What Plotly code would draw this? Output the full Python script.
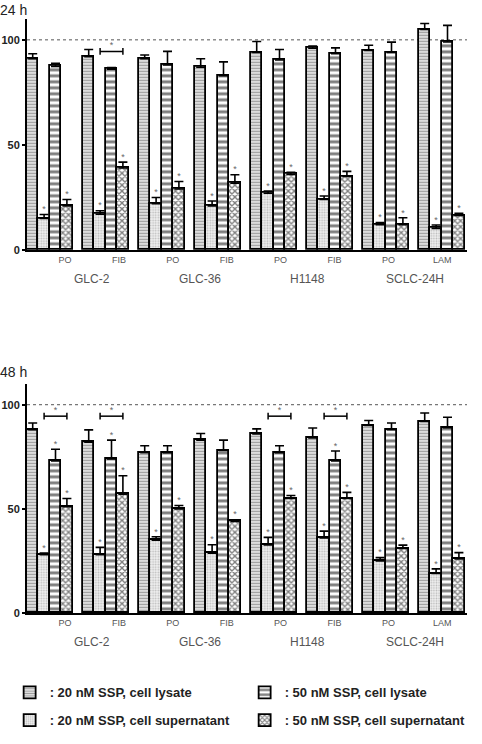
import plotly.graph_objects as go

# ---------------- data ----------------
conditions = ["PO", "FIB", "PO", "FIB", "PO", "FIB", "PO", "LAM"]
cell_lines = ["GLC-2", "GLC-36", "H1148", "SCLC-24H"]
series_names = [": 20 nM SSP, cell lysate", ": 20 nM SSP, cell supernatant",
                ": 50 nM SSP, cell lysate", ": 50 nM SSP, cell supernatant"]

# 24 h panel: values and upper error
h24_lys20 = [91, 92, 91, 87, 94, 96, 95, 105]
h24_lys20_err = [2.4, 3.4, 1.8, 4, 5.2, 1, 2.4, 2.8]
h24_sup20 = [15, 17, 22, 21, 27, 24, 12, 10.3]
h24_sup20_err = [1.9, 1.7, 3, 2.3, 1, 1.7, 1, 1.6]
h24_lys50 = [87.4, 86, 88, 83, 90.4, 93.4, 94, 99]
h24_lys50_err = [1.5, 0.8, 6.5, 6.5, 5, 2.8, 4.9, 7.9]
h24_sup50 = [21, 39, 29, 31.8, 36, 35, 12, 16.4]
h24_sup50_err = [3, 2.8, 3.6, 4, 1, 2.4, 3.3, 1]

# 48 h panel
h48_lys20 = [88, 82, 77, 83, 86, 84, 90, 92]
h48_lys20_err = [3.2, 5.9, 3.3, 3.2, 2.4, 4.8, 2.4, 4]
h48_sup20 = [28, 28, 35, 28.7, 32.7, 36, 25, 19]
h48_sup20_err = [0.8, 3.5, 1.6, 4.1, 3.6, 3.3, 1.6, 2.2]
h48_lys50 = [73, 74, 77, 78, 77, 73, 88, 89]
h48_lys50_err = [5.6, 9, 3.3, 5, 3.3, 4.8, 3.2, 5]
h48_sup50 = [51, 57, 50, 44, 55, 55, 31, 26]
h48_sup50_err = [4, 8.9, 1.6, 0.8, 1.4, 2.9, 1.6, 3]

# significance markers
h24_star_lys50 = []
h24_brackets = [1]
h48_star_lys50 = [0, 1, 5]
h48_brackets = [0, 1, 4, 5]

# ---------------- layout helpers ----------------
W, H = 482, 744
PX_UNIT = 11.4           # pixels per bar width
GROUP_PITCH = 56 / PX_UNIT
X0_PX, X1_PX = 27, 467
XR = [0, (X1_PX - X0_PX) / PX_UNIT]

def bar_x(k):
    return [g * GROUP_PITCH + k + 0.5 for g in range(len(conditions))]

label_x = [(65 + 53.9 * g - X0_PX) / PX_UNIT for g in range(len(conditions))]

patterns = [
    dict(shape="-", size=3, solidity=0.4, fgcolor="#555555", bgcolor="#e3e3e3"),
    dict(shape=".", size=2.6, solidity=0.35, fgcolor="#888888", bgcolor="#efefef"),
    dict(shape="-", size=6, solidity=0.5, fgcolor="#000000", bgcolor="#ffffff"),
    dict(shape="x", size=4.2, solidity=0.55, fgcolor="#000000", bgcolor="#ffffff"),
]
legend_of = ["legend", "legend2", "legend", "legend2"]

fig = go.Figure()

panels = [
    dict(vals=[h24_lys20, h24_sup20, h24_lys50, h24_sup50],
         errs=[h24_lys20_err, h24_sup20_err, h24_lys50_err, h24_sup50_err],
         stars3=h24_star_lys50, brackets=h24_brackets,
         xa="x", ya="y", y0px=252, ytoppx=19, title="24 h", titlepx=10, glabpx=281),
    dict(vals=[h48_lys20, h48_sup20, h48_lys50, h48_sup50],
         errs=[h48_lys20_err, h48_sup20_err, h48_lys50_err, h48_sup50_err],
         stars3=h48_star_lys50, brackets=h48_brackets,
         xa="x2", ya="y2", y0px=618, ytoppx=387, title="48 h", titlepx=375, glabpx=647),
]

shapes = []
annotations = []

for pi, p in enumerate(panels):
    for k in range(4):
        fig.add_trace(go.Bar(
            x=bar_x(k), y=p["vals"][k], width=1.0,
            name=series_names[k],
            legend=legend_of[k],
            showlegend=(pi == 0),
            marker=dict(color=patterns[k]["bgcolor"], pattern=patterns[k],
                        line=dict(color="#000000", width=1.8)),
            error_y=dict(type="data", symmetric=False, array=p["errs"][k],
                         arrayminus=[0] * len(conditions), color="#000000",
                         thickness=1.6, width=4.5),
            xaxis=p["xa"], yaxis=p["ya"], hoverinfo="skip",
        ))
    # asterisks over supernatant bars (and some 50 nM lysate bars)
    sx, sy = [], []
    for k in (1, 3):
        for g in range(len(conditions)):
            sx.append(bar_x(k)[g])
            sy.append(p["vals"][k][g] + p["errs"][k][g])
    for g in p["stars3"]:
        sx.append(bar_x(2)[g])
        sy.append(p["vals"][2][g] + p["errs"][2][g])
    # brackets
    for g in p["brackets"]:
        xa_ = bar_x(1)[g]
        xb_ = bar_x(3)[g]
        yb = 94.5
        shapes.append(dict(type="line", xref=p["xa"], yref=p["ya"], x0=xa_, x1=xb_, y0=yb, y1=yb,
                           line=dict(color="#000", width=1.5)))
        for xx in (xa_, xb_):
            shapes.append(dict(type="line", xref=p["xa"], yref=p["ya"], x0=xx, x1=xx,
                               y0=yb - 1.6, y1=yb + 1.6, line=dict(color="#000", width=1.5)))
        sx.append((xa_ + xb_) / 2)
        sy.append(yb + 0.5)
    fig.add_trace(go.Scatter(x=sx, y=sy, mode="text", text=["*"] * len(sx),
                             textposition="top center",
                             textfont=dict(size=9, color="#666666", family="Arial"),
                             showlegend=False, hoverinfo="skip",
                             xaxis=p["xa"], yaxis=p["ya"]))
    # 100 % dashed line
    shapes.append(dict(type="line", xref=p["xa"] + " domain", yref=p["ya"], x0=0, x1=1, y0=100, y1=100,
                       line=dict(color="#555555", width=1, dash="3px,3px"), layer="below"))
    # panel title
    annotations.append(dict(text=p["title"], xref="paper", yref="paper", x=-2 / W, y=1 - p["titlepx"] / H,
                            xanchor="left", yanchor="middle", showarrow=False,
                            font=dict(size=14, color="#222222", family="Arial")))
    # cell line labels
    for ci, cl in enumerate(cell_lines):
        cx = (label_x[2 * ci] + label_x[2 * ci + 1]) / 2
        annotations.append(dict(text=cl, xref=p["xa"], yref="paper", x=cx, y=1 - p["glabpx"] / H,
                                xanchor="center", yanchor="middle", showarrow=False,
                                font=dict(size=12, color="#555555", family="Arial")))

axis_common = dict(showgrid=False, zeroline=False, showline=True, linecolor="#000000", linewidth=2)
dom_x = [X0_PX / W, X1_PX / W]
for pi, p in enumerate(panels):
    sfx = "" if pi == 0 else "2"
    ydom = [1 - p["y0px"] / H, 1 - p["ytoppx"] / H]
    fig.layout["xaxis" + sfx] = dict(axis_common, domain=dom_x, range=XR, anchor="y" + sfx,
                                     tickmode="array", tickvals=label_x, ticktext=conditions,
                                     ticks="", tickfont=dict(size=9, color="#555555", family="Arial"))
    fig.layout["yaxis" + sfx] = dict(axis_common, domain=ydom, range=[0, 110], anchor="x" + sfx,
                                     tickmode="array", tickvals=[0, 50, 100], ticks="outside", ticklen=3,
                                     tickwidth=1.5, tickcolor="#000",
                                     tickfont=dict(size=11, color="#222222", family="Arial", weight="bold"))

legend_common = dict(orientation="h", x=0.02, xanchor="left", yanchor="middle",
                     entrywidth=190, entrywidthmode="pixels", traceorder="normal",
                     font=dict(size=13, color="#222222", family="Arial", weight="bold"),
                     itemclick=False, itemdoubleclick=False, bgcolor="rgba(0,0,0,0)")

fig.update_layout(
    width=W, height=H, margin=dict(l=0, r=0, t=0, b=0),
    paper_bgcolor="white", plot_bgcolor="white",
    barmode="overlay", bargap=0,
    shapes=shapes, annotations=annotations,
    legend=dict(legend_common, y=1 - 698 / H),
    legend2=dict(legend_common, y=1 - 726 / H),
)

fig.write_html("out.html")
